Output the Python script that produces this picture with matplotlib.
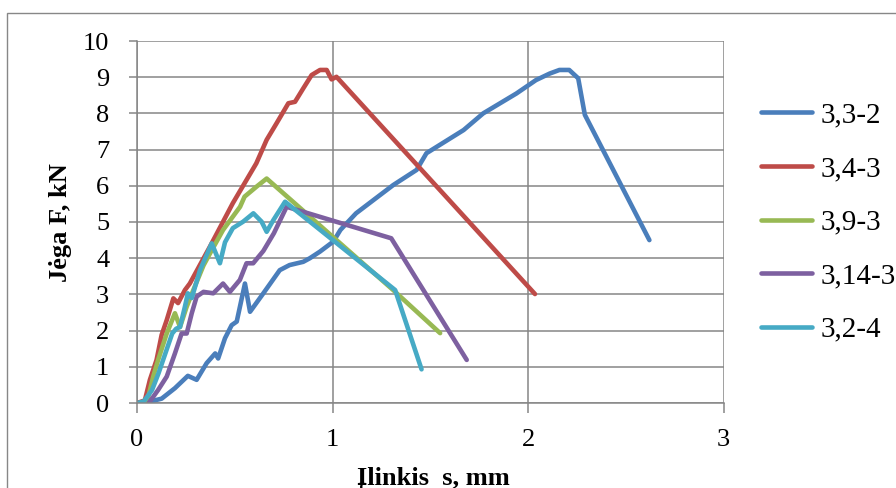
import matplotlib
matplotlib.use("Agg")
import matplotlib.pyplot as plt
from matplotlib.patches import Rectangle

plt.rcParams['font.family'] = ['Liberation Serif', 'DejaVu Serif']

# data (deflection s in mm, force F in kN)
x_33_2 = [0, 0.066, 0.126, 0.194, 0.26, 0.305, 0.356, 0.40, 0.415, 0.45, 0.484, 0.51,
          0.552, 0.578, 0.646, 0.73, 0.78, 0.85, 0.884, 0.935, 1.004, 1.04, 1.12, 1.21,
          1.31, 1.43, 1.48, 1.67, 1.77, 1.94, 2.04, 2.11, 2.16, 2.21, 2.256, 2.29, 2.62]
y_33_2 = [0, 0.04, 0.12, 0.41, 0.75, 0.64, 1.1, 1.37, 1.23, 1.79, 2.15, 2.25,
          3.3, 2.52, 3.03, 3.67, 3.81, 3.9, 4.0, 4.18, 4.46, 4.78, 5.24, 5.61,
          6.02, 6.44, 6.9, 7.54, 8.0, 8.55, 8.92, 9.1, 9.2, 9.2, 8.97, 7.96, 4.5]

x_34_3 = [0, 0.04, 0.066, 0.10, 0.126, 0.152, 0.186, 0.21, 0.245, 0.27, 0.373, 0.49,
          0.61, 0.663, 0.714, 0.774, 0.808, 0.85, 0.893, 0.936, 0.97, 0.995, 1.02, 2.035]
y_34_3 = [0, 0.07, 0.64, 1.19, 1.88, 2.29, 2.89, 2.76, 3.12, 3.3, 4.32, 5.52,
          6.62, 7.27, 7.73, 8.28, 8.32, 8.69, 9.06, 9.2, 9.2, 8.94, 9.01, 3.01]

x_39_3 = [0.05, 0.083, 0.108, 0.152, 0.194, 0.22, 0.254, 0.288, 0.34, 0.37, 0.44, 0.527,
          0.55, 0.612, 0.663, 1.31, 1.55]
y_39_3 = [0, 0.73, 1.19, 1.92, 2.48, 2.1, 2.66, 3.12, 3.8, 4.1, 4.78, 5.42,
          5.7, 5.98, 6.2, 3.12, 1.93]

x_314_3 = [0.06, 0.108, 0.152, 0.194, 0.228, 0.254, 0.28, 0.305, 0.34, 0.39, 0.44, 0.475,
           0.526, 0.56, 0.594, 0.646, 0.70, 0.765, 1.30, 1.686]
y_314_3 = [0, 0.36, 0.73, 1.37, 1.92, 1.92, 2.48, 2.94, 3.07, 3.03, 3.3, 3.07,
           3.4, 3.86, 3.86, 4.2, 4.69, 5.42, 4.55, 1.19]

x_32_4 = [0, 0.034, 0.077, 0.11, 0.145, 0.18, 0.2, 0.22, 0.245, 0.26, 0.28, 0.322,
          0.382, 0.424, 0.45, 0.49, 0.543, 0.595, 0.637, 0.663, 0.697, 0.757, 1.32, 1.455]
y_32_4 = [0, 0.04, 0.36, 0.82, 1.37, 1.92, 2.05, 2.1, 2.66, 3.03, 2.9, 3.67,
          4.41, 3.86, 4.44, 4.83, 5.01, 5.24, 5.01, 4.73, 5.05, 5.56, 3.12, 0.93]

labels = ['3,3-2', '3,4-3', '3,9-3', '3,14-3', '3,2-4']
colors = ['#4A7EBB', '#BE4B48', '#98B954', '#7D60A0', '#46AAC5']

fig = plt.figure(figsize=(8.96, 4.88), dpi=100)
W, H = 896, 488

# outer chart border (cut off at right and bottom like the screenshot)
fig.add_artist(Rectangle((7 / W, -0.1), 1.2, 1.1 - 13 / H, transform=fig.transFigure,
                         fill=False, edgecolor='#878787', lw=1.0))

ax = fig.add_axes([137 / W, 1 - 403 / H, (723.7 - 137) / W, (403 - 41) / H])

series = [(x_33_2, y_33_2), (x_34_3, y_34_3), (x_39_3, y_39_3),
          (x_314_3, y_314_3), (x_32_4, y_32_4)]
for (xs, ys), lab, c in zip(series, labels, colors):
    ax.plot(xs, ys, color=c, lw=3.3, label=lab,
            solid_joinstyle='round', solid_capstyle='round')

ax.set_xlim(0, 3)
ax.set_ylim(0, 10)
ax.set_xticks([0, 1, 2, 3])
ax.set_yticks(range(0, 11))
ax.grid(True, color='#868686', lw=1.1)
ax.set_axisbelow(True)
for side in ['top', 'right']:
    ax.spines[side].set_visible(False)
for side in ['left', 'bottom']:
    ax.spines[side].set_color('#868686')
    ax.spines[side].set_linewidth(1.1)
ax.tick_params(axis='both', colors='#868686', labelcolor='black', labelsize=19, width=1.1)
ax.tick_params(axis='x', length=7, pad=12)
ax.tick_params(axis='y', length=6, pad=14)

fig.text(61 / W, 1 - 223 / H, 'Jėga F, kN', rotation=90, ha='center', va='center',
         fontsize=19, fontweight='bold')
fig.text(433 / W, 1 - 478 / H, 'Įlinkis  s, mm', ha='center', va='center',
         fontsize=19, fontweight='bold')

ax.legend(loc='center left', bbox_to_anchor=(761 / W, 1 - 222.5 / H),
          bbox_transform=fig.transFigure, frameon=False, fontsize=21,
          handlelength=1.76, handletextpad=0.28, labelspacing=0.93,
          borderpad=0, borderaxespad=0)

fig.savefig('out.png', dpi=100)
